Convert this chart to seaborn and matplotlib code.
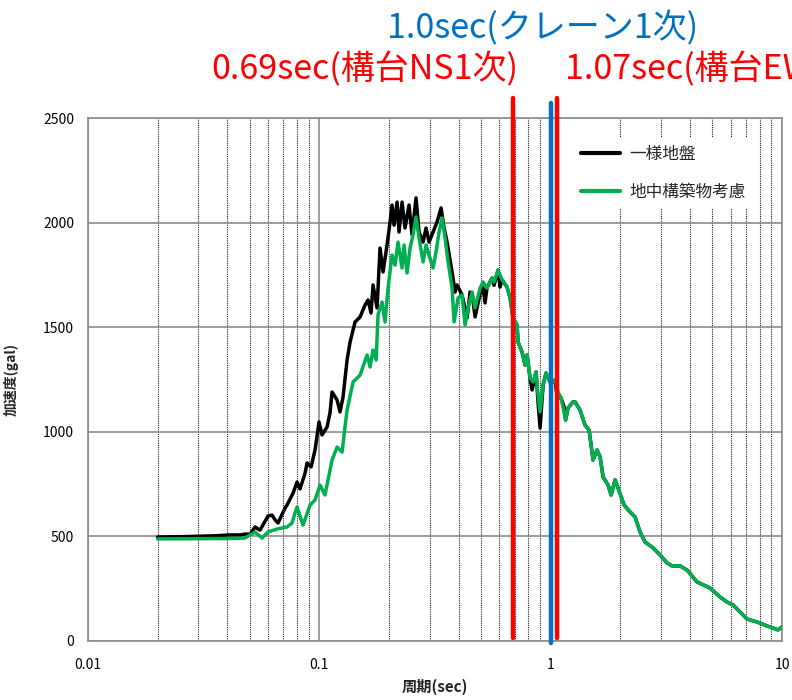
import numpy as np
import pandas as pd
import matplotlib
matplotlib.use("Agg")
import matplotlib.pyplot as plt
from matplotlib.ticker import FixedLocator, LogLocator, NullFormatter, FixedFormatter
import seaborn as sns

# ---- data -------------------------------------------------------------
series_names = ["一様地盤", "地中構築物考慮"]
series_colors = ["#000000", "#00B050"]

# uniform ground (short-period part)
uniform_T = [0.020, 0.0226, 0.0263, 0.0305, 0.0354, 0.0411, 0.0454, 0.0477, 0.0502, 0.0527,
             0.0554, 0.0600, 0.0624, 0.0643, 0.0663, 0.0711, 0.0725, 0.0770, 0.0801, 0.0825,
             0.0868, 0.0885, 0.0921, 0.0958, 0.0997, 0.1027, 0.1080, 0.1112, 0.1135, 0.1193,
             0.1229, 0.1266, 0.1318, 0.1358, 0.1427, 0.1500, 0.1576, 0.1624, 0.1673, 0.1707,
             0.1776, 0.1830, 0.1886, 0.1962, 0.2022, 0.2062, 0.2104, 0.2168, 0.2211, 0.2278,
             0.2347, 0.2442, 0.2516, 0.2618, 0.2698, 0.2808, 0.2893, 0.2981, 0.3101, 0.3228,
             0.3359, 0.3461, 0.3566, 0.3748, 0.3861, 0.3938, 0.4140, 0.4352, 0.4483, 0.4574,
             0.4713, 0.4953, 0.5103, 0.5205, 0.5309, 0.5581, 0.5693, 0.5924, 0.6043, 0.6165,
             0.6480, 0.6676, 0.6878, 0.7157, 0.7229, 0.7523, 0.7750, 0.7907, 0.8146, 0.8311,
             0.8648, 0.8822, 0.9000, 0.9272, 0.9552, 0.9940, 1.024, 1.045, 1.066, 1.109,
             1.143, 1.160, 1.189]
uniform_A = [497, 498, 499, 501, 503, 507, 507, 511, 510, 545,
             530, 597, 602, 580, 564, 636, 650, 707, 760, 727,
             803, 851, 832, 913, 1047, 985, 1023, 1090, 1190, 1152,
             1095, 1166, 1343, 1429, 1525, 1549, 1606, 1630, 1568, 1702,
             1592, 1878, 1764, 1893, 2003, 2084, 1988, 2098, 1955, 2098,
             1974, 2084, 1941, 2118, 1955, 1907, 1974, 1907, 1955, 2003,
             2070, 1974, 1907, 1764, 1668, 1702, 1654, 1544, 1668, 1660,
             1549, 1660, 1690, 1616, 1690, 1735, 1700, 1773, 1692, 1726,
             1692, 1640, 1544, 1510, 1429, 1381, 1319, 1367, 1257, 1200,
             1286, 1140, 1018, 1224, 1281, 1238, 1238, 1248, 1166, 1162,
             1119, 1056, 1114]

# ground with underground structure (short-period part)
structure_T = [0.020, 0.030, 0.040, 0.0477, 0.0527, 0.0565, 0.0600, 0.0656, 0.0725, 0.0762,
               0.0785, 0.0801, 0.0850, 0.0912, 0.0958, 0.1007, 0.1058, 0.1135, 0.1193, 0.1254,
               0.1291, 0.1318, 0.1399, 0.1500, 0.1608, 0.1657, 0.1707, 0.1760, 0.1794, 0.1867,
               0.1923, 0.1982, 0.2062, 0.2125, 0.2189, 0.2278, 0.2324, 0.2394, 0.2466, 0.2541,
               0.2618, 0.2698, 0.2808, 0.2893, 0.2981, 0.3101, 0.3195, 0.3293, 0.3393, 0.3496,
               0.3602, 0.3748, 0.3823, 0.3978, 0.4140, 0.4266, 0.4396, 0.4574, 0.4713, 0.4953,
               0.5103, 0.5309, 0.5581, 0.5693, 0.5924, 0.6165, 0.6480, 0.6676, 0.6878, 0.7157,
               0.7229, 0.7523, 0.7750, 0.7907, 0.8146, 0.8393, 0.8648, 0.8822, 0.9000, 0.9272,
               0.9552, 0.9940, 1.024, 1.045, 1.076, 1.109, 1.143, 1.160, 1.189]
structure_A = [488, 489, 490, 492, 521, 492, 521, 535, 545, 564,
               612, 640, 554, 650, 674, 745, 698, 865, 927, 903,
               1023, 1104, 1238, 1271, 1367, 1310, 1391, 1343, 1560, 1620,
               1525, 1687, 1845, 1797, 1907, 1783, 1893, 1759, 1878, 1941,
               2027, 1926, 1812, 1893, 1845, 1783, 1859, 1955, 2022, 1926,
               1812, 1687, 1525, 1640, 1654, 1510, 1592, 1668, 1592, 1687,
               1716, 1687, 1735, 1716, 1773, 1726, 1692, 1640, 1544, 1510,
               1429, 1381, 1319, 1367, 1257, 1238, 1286, 1176, 1095, 1224,
               1281, 1238, 1238, 1248, 1190, 1162, 1090, 1056, 1114]

# long-period part, common to both cases
common_T = [1.250, 1.275, 1.340, 1.408, 1.466, 1.525, 1.587,
            1.636, 1.685, 1.771, 1.825, 1.899, 1.956, 2.077, 2.204, 2.317, 2.435,
            2.559, 2.772, 2.972, 3.186, 3.349, 3.626, 3.888, 4.295, 4.889, 5.400,
            5.790, 6.146, 7.068, 7.805, 8.622, 9.620, 10.00]
common_A = [1143, 1143, 1104, 1032, 1008, 865, 913,
            880, 784, 746, 698, 770, 731, 650, 617, 593, 521,
            473, 445, 411, 373, 359, 359, 339, 282, 253, 210,
            186, 172, 105, 91, 72, 53, 67]

# natural periods of the structures
mode_periods = [0.69, 1.0, 1.07]
mode_labels = ["0.69sec(構台NS1次)", "1.0sec(クレーン1次)", "1.07sec(構台EW1次)"]
mode_colors = ["#FF0000", "#0070C0", "#FF0000"]

xtick_values = [0.01, 0.1, 1, 10]
xtick_labels = ["0.01", "0.1", "1", "10"]
ytick_values = [0, 500, 1000, 1500, 2000, 2500]

# ---- frame ------------------------------------------------------------
sns.set_theme(style="white")
plt.rcParams["font.family"] = ["Noto Sans CJK JP", "DejaVu Sans"]

df = pd.concat([
    pd.DataFrame({"period": uniform_T + common_T, "accel": uniform_A + common_A,
                  "series": series_names[0]}),
    pd.DataFrame({"period": structure_T + common_T, "accel": structure_A + common_A,
                  "series": series_names[1]}),
], ignore_index=True)

fig = plt.figure(figsize=(7.92, 7.0), dpi=100)
ax = fig.add_axes([88 / 792, 59 / 700, 694 / 792, 523 / 700])
ax.set_xscale("log")

sns.lineplot(data=df, x="period", y="accel", hue="series", hue_order=series_names,
             palette=dict(zip(series_names, series_colors)), estimator=None,
             linewidth=2.5, ax=ax, zorder=3)

ax.set_xlim(0.01, 10)
ax.set_ylim(0, 2500)
ax.xaxis.set_major_locator(FixedLocator(xtick_values))
ax.xaxis.set_major_formatter(FixedFormatter(xtick_labels))
ax.xaxis.set_minor_locator(LogLocator(base=10, subs=np.arange(2, 10)))
ax.xaxis.set_minor_formatter(NullFormatter())
ax.yaxis.set_major_locator(FixedLocator(ytick_values))

ax.grid(which="major", axis="both", color="#8c8c8c", linewidth=1.2, linestyle="-")
ax.grid(which="minor", axis="x", color="#222222", linewidth=0.8, linestyle=(0, (1, 1)))
ax.set_axisbelow(True)
ax.tick_params(which="both", length=0, labelsize=10, colors="#000000")
ax.tick_params(axis="x", pad=12)
ax.tick_params(axis="y", pad=10)
for sp in ax.spines.values():
    sp.set_color("#8c8c8c")
    sp.set_linewidth(1.2)

ax.set_xlabel("周期(sec)", fontsize=11, fontweight="bold")
ax.set_ylabel("加速度(gal)", fontsize=10, fontweight="bold")
ax.xaxis.set_label_coords(0.5, -0.073)
ax.yaxis.set_label_coords(-0.10, 0.5)

# natural-period markers
line_spans = [(0.006, 1.038), (-0.004, 1.029), (0.006, 1.038)]
for t, c, (y0, y1) in zip(mode_periods, mode_colors, line_spans):
    ax.axvline(t, ymin=y0, ymax=y1, color=c, linewidth=3.2, clip_on=False, zorder=4)

fig.text(518 / 792, 1 - 70 / 700, mode_labels[0], color=mode_colors[0],
         fontsize=24.5, ha="right", va="center")
fig.text(543 / 792, 1 - 29 / 700, mode_labels[1], color=mode_colors[1],
         fontsize=24.5, ha="center", va="center")
fig.text(565 / 792, 1 - 70 / 700, mode_labels[2], color=mode_colors[2],
         fontsize=24.5, ha="left", va="center")

handles, labels = ax.get_legend_handles_labels()
for h in handles:
    h.set_linewidth(3)
leg = ax.legend(handles, labels, loc="upper left", bbox_to_anchor=(0.699, 0.962),
                borderaxespad=0, frameon=True, facecolor="white", edgecolor="none",
                framealpha=1, fancybox=False, fontsize=12, handlelength=2.3,
                handletextpad=0.55, labelspacing=1.25, borderpad=0.5)
leg.set_zorder(5)

fig.savefig("out.png", dpi=100)
